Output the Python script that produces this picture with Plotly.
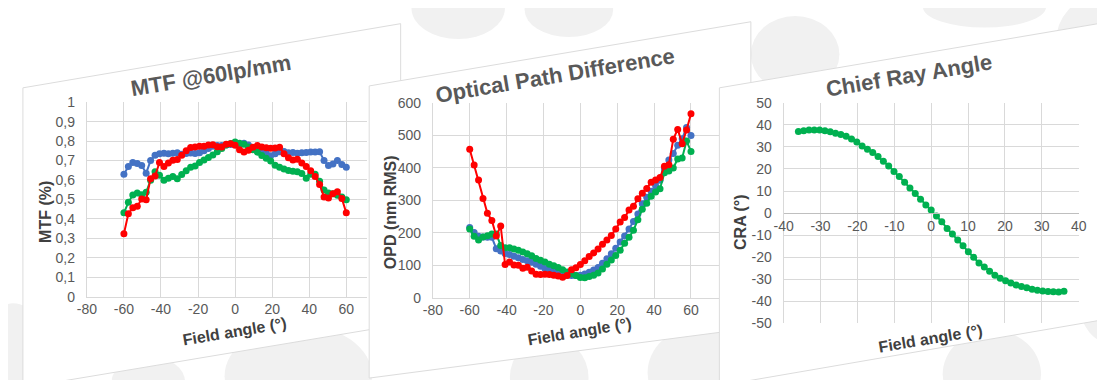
import plotly.graph_objects as go

# ---------------- data ----------------
field_angle = [-60, -57.6, -55.2, -52.8, -50.4, -48, -45.6, -43.2, -40.8, -38.4,
               -36, -33.6, -31.2, -28.8, -26.4, -24, -21.6, -19.2, -16.8, -14.4,
               -12, -9.6, -7.2, -4.8, -2.4, 0, 2.4, 4.8, 7.2, 9.6,
               12, 14.4, 16.8, 19.2, 21.6, 24, 26.4, 28.8, 31.2, 33.6,
               36, 38.4, 40.8, 43.2, 45.6, 48, 50.4, 52.8, 55.2, 57.6, 60]

mtf_blue = [0.63, 0.67, 0.69, 0.685, 0.675, 0.635, 0.70, 0.727, 0.735, 0.738,
            0.735, 0.737, 0.74, 0.733, 0.736, 0.739, 0.736, 0.74, 0.75, 0.762,
            0.774, 0.777, 0.777, 0.78, 0.782, 0.782, 0.783, 0.789, 0.78, 0.766,
            0.759, 0.75, 0.738, 0.725, 0.735, 0.745, 0.747, 0.74, 0.742, 0.738,
            0.74, 0.742, 0.744, 0.744, 0.745, 0.70, 0.675, 0.682, 0.70, 0.68, 0.665]
mtf_green = [0.431, 0.485, 0.523, 0.533, 0.524, 0.537, 0.599, 0.642, 0.624, 0.599,
             0.609, 0.618, 0.606, 0.628, 0.647, 0.665, 0.672, 0.69, 0.703, 0.716,
             0.728, 0.745, 0.762, 0.78, 0.788, 0.795, 0.789, 0.784, 0.77, 0.756,
             0.743, 0.726, 0.712, 0.698, 0.676, 0.666, 0.656, 0.649, 0.645, 0.642,
             0.633, 0.609, 0.63, 0.63, 0.593, 0.548, 0.533, 0.529, 0.522, 0.512, 0.498]
mtf_red = [0.324, 0.427, 0.457, 0.465, 0.502, 0.499, 0.607, 0.62, 0.69, 0.67,
           0.688, 0.701, 0.705, 0.727, 0.75, 0.767, 0.77, 0.773, 0.774, 0.78,
           0.781, 0.771, 0.77, 0.784, 0.786, 0.779, 0.755, 0.744, 0.753, 0.769,
           0.777, 0.77, 0.766, 0.763, 0.764, 0.769, 0.735, 0.715, 0.703, 0.707,
           0.687, 0.67, 0.647, 0.618, 0.577, 0.512, 0.508, 0.529, 0.539, 0.505, 0.431]

opd_blue = [216, 201, 189, 187, 186, 186, 151, 144, 136, 133,
            128, 123, 118, 114, 109, 103, 97, 90, 85, 81,
            77, 72, 69, 68, 68, 69, 73, 78, 85, 93,
            106, 120, 135, 152, 172, 190, 212, 235, 258, 290,
            310, 328, 345, 362, 398, 425, 445, 470, 490, 525, 500]
opd_green = [212, 189, 178, 187, 191, 196, 196, 161, 154, 154,
             150, 146, 141, 135, 129, 121, 115, 110, 103, 98,
             93, 86, 79, 74, 68, 62, 61, 65, 69, 76,
             88, 103, 116, 130, 146, 168, 186, 208, 240, 273,
             291, 313, 326, 336, 385, 391, 400, 428, 431, 483, 451]
opd_red = [458, 409, 363, 306, 260, 238, 190, 221, 102, 110,
           101, 100, 91, 94, 82, 72, 71, 72, 71, 69,
           67, 63, 68, 86, 92, 102, 114, 127, 138, 150,
           165, 178, 192, 212, 233, 247, 270, 282, 305, 322,
           337, 356, 363, 371, 405, 410, 489, 519, 475, 517, 567]

cra_field = [-36, -34.56, -33.12, -31.68, -30.24, -28.8, -27.36, -25.92, -24.48, -23.04,
             -21.6, -20.16, -18.72, -17.28, -15.84, -14.4, -12.96, -11.52, -10.08, -8.64,
             -7.2, -5.76, -4.32, -2.88, -1.44, 0, 1.44, 2.88, 4.32, 5.76,
             7.2, 8.64, 10.08, 11.52, 12.96, 14.4, 15.84, 17.28, 18.72, 20.16,
             21.6, 23.04, 24.48, 25.92, 27.36, 28.8, 30.24, 31.68, 33.12, 34.56, 36]
cra_green = [37.0, 37.4, 37.7, 37.7, 37.7, 37.3, 36.9, 36.2, 35.7, 34.8,
             33.6, 32.2, 30.4, 29.0, 27.5, 25.7, 23.5, 21.4, 18.8, 16.6,
             14.0, 11.4, 8.9, 6.3, 3.7, 1.4, -1.4, -4.0, -7.0, -9.5,
             -12.2, -14.9, -17.6, -20.1, -22.7, -24.5, -26.4, -28.2, -29.6, -30.7,
             -31.8, -32.7, -33.3, -33.9, -34.6, -35.0, -35.4, -35.6, -35.7, -35.8, -35.5]

# tick values and labels (hyphen minus, comma decimals as in the picture)
fa_tickvals = [-80, -60, -40, -20, 0, 20, 40, 60]
fa_ticktext = ['-80', '-60', '-40', '-20', '0', '20', '40', '60']
mtf_tickvals = [0, 0.1, 0.2, 0.3, 0.4, 0.5, 0.6, 0.7, 0.8, 0.9, 1]
mtf_ticktext = ['0', '0,1', '0,2', '0,3', '0,4', '0,5', '0,6', '0,7', '0,8', '0,9', '1']
opd_tickvals = [0, 100, 200, 300, 400, 500, 600]
opd_ticktext = ['0', '100', '200', '300', '400', '500', '600']
cra_xtickvals = [-40, -30, -20, -10, 0, 10, 20, 30, 40]
cra_xticktext = ['-40', '-30', '-20', '-10', '0', '10', '20', '30', '40']
cra_ytickvals = [-50, -40, -30, -20, -10, 0, 10, 20, 30, 40, 50]
cra_yticktext = ['-50', '-40', '-30', '-20', '-10', '0', '10', '20', '30', '40', '50']

# ---------------- styling ----------------
W, H = 1105, 380
BLUE, GREEN, RED = '#4472C4', '#00B050', '#FF0000'
FONT = 'Liberation Sans, Arial, sans-serif'
TXT = '#595959'
GRID = '#d9d9d9'


def fx(p):
    return p / W


def fy(p):
    return 1 - p / H


fig = go.Figure()


def add(x, y, color, xa, ya):
    fig.add_trace(go.Scatter(
        x=x, y=y, mode='lines+markers',
        line=dict(color=color, width=2),
        marker=dict(color=color, size=7),
        xaxis=xa, yaxis=ya, showlegend=False, hoverinfo='skip'))


add(field_angle, mtf_blue, BLUE, 'x', 'y')
add(field_angle, mtf_green, GREEN, 'x', 'y')
add(field_angle, mtf_red, RED, 'x', 'y')
add(field_angle, opd_blue, BLUE, 'x2', 'y2')
add(field_angle, opd_green, GREEN, 'x2', 'y2')
add(field_angle, opd_red, RED, 'x2', 'y2')
add(cra_field, cra_green, GREEN, 'x3', 'y3')

common = dict(showgrid=True, gridcolor=GRID, gridwidth=1, zeroline=False,
              showline=True, linecolor=GRID, linewidth=1, ticks='',
              tickfont=dict(family=FONT, size=14, color=TXT), fixedrange=True)

cra_top, cra_bot = 90.7, 320.7

layout_axes = dict(
    xaxis=dict(common, domain=[fx(70), fx(355)], range=[-80, 71.3],
               tickvals=fa_tickvals, ticktext=fa_ticktext, anchor='y'),
    yaxis=dict(common, domain=[fy(293), fy(90)], range=[0, 1],
               tickvals=mtf_tickvals, ticktext=mtf_ticktext,
               anchor='x', ticklabelstandoff=8),
    xaxis2=dict(common, domain=[fx(421.7), fx(713)], range=[-80, 75.4],
                tickvals=fa_tickvals, ticktext=fa_ticktext, anchor='y2'),
    yaxis2=dict(common, domain=[fy(294), fy(91)], range=[0, 600],
                tickvals=opd_tickvals, ticktext=opd_ticktext,
                anchor='x2', ticklabelstandoff=8),
    xaxis3=dict(common, domain=[fx(778.3), fx(1078.3)], range=[-40, 40],
                tickvals=cra_xtickvals, ticktext=cra_xticktext, anchor='free',
                position=(fy(cra_bot) + fy(cra_top)) / 2, linecolor='#bfbfbf'),
    yaxis3=dict(common, domain=[fy(cra_bot), fy(cra_top)], range=[-50, 50],
                tickvals=cra_ytickvals, ticktext=cra_yticktext,
                anchor='x3', ticklabelstandoff=8),
)


def poly(pts, fill, line):
    d = 'M ' + ' L '.join(f'{fx(a):.5f},{fy(b):.5f}' for a, b in pts) + ' Z'
    return dict(type='path', path=d, xref='paper', yref='paper',
                fillcolor=fill, line=dict(color=line, width=1), layer='below')


def blob(x0, y0, x1, y1):
    return dict(type='circle', xref='paper', yref='paper',
                x0=fx(x0), x1=fx(x1), y0=fy(y1), y1=fy(y0),
                fillcolor='#f1f1f1', line=dict(width=0), layer='below')


shapes = [
    blob(400, -40, 495, 24), blob(515, -35, 605, 22), blob(745, 0, 835, 80),
    blob(920, -30, 1045, 12), blob(1055, -20, 1140, 75), blob(1070, 160, 1140, 340),
    blob(-40, 300, 30, 410), blob(95, 355, 170, 410), blob(210, 322, 360, 430),
    blob(500, 335, 580, 420), blob(640, 325, 740, 420), blob(940, 328, 1040, 420),
    poly([(5, 75), (389, 8), (389, 322), (5, 388)], 'white', '#dcdcdc'),
    poly([(357, 73), (745, 6), (745, 326), (357, 378)], 'white', '#dcdcdc'),
    poly([(713, 75), (1098, 8), (1098, 318), (713, 386)], 'white', '#dcdcdc'),
]


def ann(text, x, y, size, angle, bold=True, color=TXT):
    return dict(text=f'<b>{text}</b>' if bold else text, x=fx(x), y=fy(y),
                xref='paper', yref='paper', showarrow=False, textangle=angle,
                xanchor='center', yanchor='middle',
                font=dict(family=FONT, size=size, color=color))


annotations = [
    ann('MTF @60lp/mm', 196, 62, 22, -9.5),
    ann('Optical Path Difference', 546, 62, 22, -9.5),
    ann('Chief Ray Angle', 906, 62, 22, -9.5),
    ann('MTF (%)', 28, 205, 16, -90, color='#404040'),
    ann('OPD (nm RMS)', 379, 205, 16, -90, color='#404040'),
    ann('CRA (°)', 735, 215, 16, -90, color='#404040'),
    ann('Field angle (°)', 220, 329, 16, -9.5, color='#404040'),
    ann('Field angle (°)', 571, 329, 16, -9.5, color='#404040'),
    ann('Field angle (°)', 928, 337, 16, -9.5, color='#404040'),
]

fig.update_layout(
    width=W, height=H, autosize=False,
    margin=dict(l=0, r=0, t=0, b=0),
    paper_bgcolor='white', plot_bgcolor='rgba(0,0,0,0)',
    font=dict(family=FONT, color=TXT),
    shapes=shapes, annotations=annotations,
    showlegend=False,
    **layout_axes,
)

fig.write_html('out.html')
